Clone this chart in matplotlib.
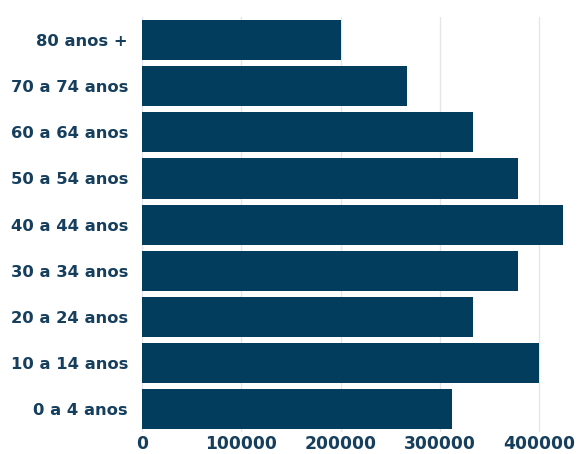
import matplotlib
matplotlib.use("Agg")
import matplotlib.pyplot as plt

# faixas etárias (de baixo para cima) e população
faixas = ["0 a 4 anos", "10 a 14 anos", "20 a 24 anos", "30 a 34 anos", "40 a 44 anos",
          "50 a 54 anos", "60 a 64 anos", "70 a 74 anos", "80 anos +"]
populacao = [312000, 400000, 333500, 379000, 424000, 379000, 333500, 267000, 200500]
xticks = [0, 100000, 200000, 300000, 400000]

BAR = "#023d5e"
TXT = "#163f5e"

plt.rcParams["font.family"] = ["DejaVu Sans"]
fig = plt.figure(figsize=(5.79, 4.54), dpi=100)
ax = fig.add_axes([0.245, 0.048, 0.738, 0.9146])

ax.barh(range(len(faixas)), populacao, height=0.87, color=BAR, zorder=3)
ax.set_yticks(range(len(faixas)))
ax.set_yticklabels(faixas)
ax.set_xticks(xticks)
ax.set_xticklabels([str(v) for v in xticks])
ax.set_xlim(0, 430000)
ax.set_ylim(-0.5, len(faixas) - 0.5)

ax.grid(axis="x", color="#e3e6ea", lw=1, zorder=0)
for s in ax.spines.values():
    s.set_visible(False)
ax.tick_params(length=0)
ax.tick_params(axis="y", pad=10)
ax.tick_params(axis="x", pad=2)
for t in ax.get_yticklabels():
    t.set_fontsize(11.8); t.set_fontweight("bold"); t.set_color(TXT)
for t in ax.get_xticklabels():
    t.set_fontsize(12.3); t.set_fontweight("bold"); t.set_color(TXT)

fig.savefig("out.png", dpi=100, facecolor="white")
